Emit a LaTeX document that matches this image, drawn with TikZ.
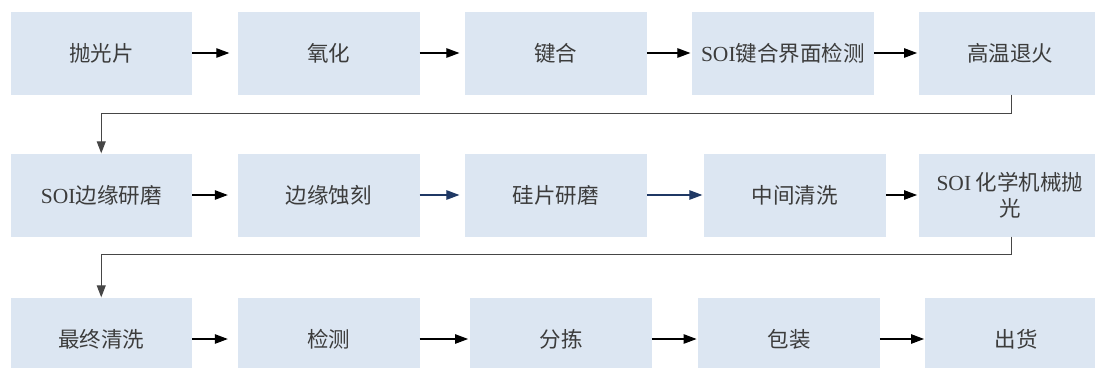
\documentclass[tikz,border=0pt]{standalone}
\usepackage{fontspec}
\setmainfont{Liberation Serif}
\newfontfamily\cjk{Noto Sans CJK SC}
\usetikzlibrary{arrows.meta}
\definecolor{boxfill}{RGB}{220,230,242}
\definecolor{txt}{RGB}{60,60,60}
\definecolor{navy}{RGB}{31,56,100}
\definecolor{lineg}{RGB}{70,70,70}
\begin{document}
\begin{tikzpicture}[x=1pt,y=-1pt,
  box/.style={fill=boxfill,draw=none,minimum width=181.5pt,minimum height=83pt,inner sep=0pt,
    text=txt,font=\fontsize{21.5}{26}\selectfont\cjk,align=center},
  arr/.style={line width=1.1pt,-{Triangle[length=13pt,width=9.5pt]}},
  conn/.style={draw=lineg,line width=1pt,-{Triangle[length=12pt,width=9pt]}}]
\useasboundingbox (0,0) rectangle (1095,367);
% row 1
\node[box] (a1) at (101.25,53) {抛光片};
\node[box] (a2) at (328.75,53) {氧化};
\node[box] (a3) at (555.85,53) {键合};
\node[box] (a4) at (782.85,53) {{\rmfamily SOI}键合界面检测};
\node[box] (a5) at (1010,53) {高温退火};
% row 2
\node[box] (b1) at (101.25,195) {{\rmfamily SOI}边缘研磨};
\node[box] (b2) at (328.75,195) {边缘蚀刻};
\node[box] (b3) at (555.85,195) {硅片研磨};
\node[box] (b4) at (794.8,195) {中间清洗};
\node[box] (b5) at (1010,195) {{\rmfamily SOI} 化学机械抛\\光};
% row 3
\node[box] (c1) at (101.25,339) {最终清洗};
\node[box] (c2) at (328.75,339) {检测};
\node[box] (c3) at (561,339) {分拣};
\node[box] (c4) at (789,339) {包装};
\node[box] (c5) at (1016,339) {出货};
% row 1 arrows
\draw[arr,shorten >=8.5pt] (a1) -- (a2);
\draw[arr,shorten >=5.5pt] (a2) -- (a3);
\draw[arr,shorten >=1.5pt] (a3) -- (a4);
\draw[arr,shorten >=2pt] (a4) -- (a5);
% row 2 arrows
\draw[arr,shorten >=10pt] (b1) -- (b2);
\draw[arr,navy,shorten >=5.5pt] (b2) -- (b3);
\draw[arr,navy,shorten >=1.5pt] (b3) -- (b4);
\draw[arr,shorten >=2pt] (b4) -- (b5);
% row 3 arrows
\draw[arr,shorten >=10pt] (c1) -- (c2);
\draw[arr,shorten >=2pt] (c2) -- (c3);
\draw[arr,shorten >=1.5pt] (c3) -- (c4);
\draw[arr,shorten >=1pt] (c4) -- (c5);
% connectors between rows
\coordinate (t1) at (1011,113);
\coordinate (t2) at (1011,254.5);
\draw[conn] (a5.south -| t1) -- (t1) -| (b1.north);
\draw[conn] (b5.south -| t2) -- (t2) -| (c1.north);
\end{tikzpicture}
\end{document}
